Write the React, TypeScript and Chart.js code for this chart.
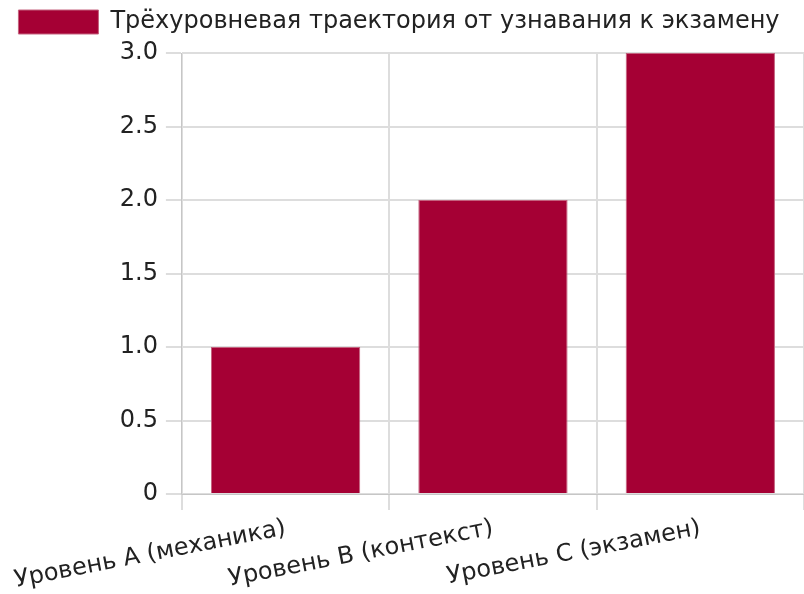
import React, { useEffect, useRef } from "react";
import { Chart, registerables } from "chart.js";

Chart.register(...registerables);

const categories = ["Уровень A (механика)", "Уровень B (контекст)", "Уровень C (экзамен)"];
const seriesLabel = "Трёхуровневая траектория от узнавания к экзамену";
const seriesValues = [1, 2, 3];

const legendSpacer = {
  id: "legendSpacer",
  beforeInit(chart: any) {
    const orig = chart.legend.fit;
    chart.legend.fit = function () {
      orig.bind(chart.legend)();
      this.height += 9;
    };
  },
};

export default function App() {
  const ref = useRef<HTMLCanvasElement | null>(null);
  useEffect(() => {
    document.body.style.margin = "0";
    const ctx = ref.current!;
    const f = { family: "DejaVu Sans", size: 24 };
    const chart = new Chart(ctx, {
      type: "bar",
      data: {
        labels: categories,
        datasets: [
          {
            label: seriesLabel,
            data: seriesValues,
            backgroundColor: "#A50034",
            borderColor: "#C4627E",
            borderWidth: 1,
          },
        ],
      },
      options: {
        responsive: false,
        animation: false,
        devicePixelRatio: 1,
        font: f,
        layout: { padding: { left: -6, bottom: -5 } },
        plugins: {
          legend: {
            labels: { boxWidth: 80, color: "#222", font: f },
          },
          tooltip: { enabled: false },
        },
        scales: {
          x: {
            ticks: { color: "#222", font: f, padding: 4, minRotation: 11, maxRotation: 11 },
            grid: { color: "#ddd", lineWidth: 2, tickLength: 16 },
          },
          y: {
            min: 0,
            max: 3,
            ticks: { stepSize: 0.5, color: "#222", font: f, padding: 8 },
            grid: { color: "#ddd", lineWidth: 2, tickLength: 16 },
          },
        },
      },
      plugins: [legendSpacer],
    });
    return () => chart.destroy();
  }, []);
  return <canvas ref={ref} width={804} height={594} style={{ display: "block" }} />;
}
